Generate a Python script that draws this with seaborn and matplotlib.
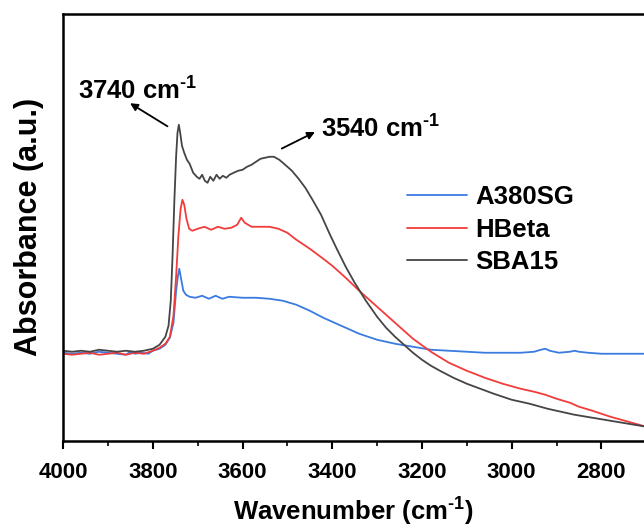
import numpy as np
import pandas as pd
import matplotlib.pyplot as plt
import seaborn as sns

# spectra (absorbance in arbitrary units)
wn_a380 = [4000, 3980, 3960, 3940, 3920, 3900, 3880, 3860, 3850, 3840, 3825, 3810, 3800, 3785, 3772, 3762, 3754, 3748, 3744, 3741,
           3737, 3732, 3726, 3718, 3705, 3690, 3675, 3660, 3645, 3630, 3600, 3570, 3540, 3510, 3480, 3450, 3420, 3400, 3370, 3340,
           3300, 3260, 3220, 3180, 3140, 3100, 3060, 3020, 2980, 2950, 2935, 2925, 2915, 2895, 2870, 2860, 2850, 2830, 2800, 2760,
           2720, 2700]
ab_a380 = [88, 87, 88, 87, 89, 88, 87, 86, 89, 87, 88, 87, 90, 92, 96, 103, 118, 150, 165, 172,
           162, 150, 146, 144, 143, 145, 142, 145, 142, 144, 143, 143, 142, 140, 136, 130, 123, 119, 113, 107,
           101, 97, 94, 91, 90, 89, 88, 88, 88, 89, 91, 92, 90, 88, 89, 90, 89, 88, 87, 87,
           87, 87]

wn_hbeta = [4000, 3980, 3960, 3940, 3920, 3900, 3880, 3860, 3840, 3820, 3800, 3785, 3772, 3762, 3754, 3748, 3743, 3738, 3734, 3730,
            3725, 3719, 3712, 3700, 3685, 3670, 3655, 3640, 3625, 3612, 3603, 3595, 3580, 3560, 3540, 3520, 3500, 3480, 3450, 3420,
            3400, 3370, 3340, 3300, 3260, 3220, 3180, 3140, 3100, 3060, 3020, 2980, 2950, 2925, 2900, 2870, 2850, 2820, 2780, 2740,
            2700]
ab_hbeta = [87, 86, 87, 88, 86, 87, 88, 86, 88, 87, 90, 93, 97, 104, 125, 165, 205, 232, 241, 236,
            222, 212, 210, 212, 214, 211, 214, 212, 213, 216, 223, 218, 214, 214, 214, 212, 208, 201, 192, 182,
            175, 163, 150, 134, 118, 102, 89, 78, 70, 63, 57, 52, 49, 46, 42, 38, 34, 30, 24, 19,
            14]

wn_sba = [4000, 3980, 3960, 3940, 3920, 3900, 3880, 3860, 3840, 3820, 3800, 3785, 3772, 3765, 3760, 3756, 3752, 3748, 3745, 3742,
          3739, 3735, 3730, 3724, 3718, 3710, 3702, 3696, 3690, 3684, 3678, 3672, 3665, 3658, 3651, 3644, 3636, 3629, 3620, 3610,
          3600, 3590, 3580, 3570, 3560, 3550, 3540, 3530, 3518, 3505, 3490, 3475, 3460, 3444, 3425, 3407, 3390, 3370, 3350, 3325,
          3300, 3280, 3260, 3240, 3220, 3200, 3180, 3160, 3130, 3100, 3070, 3040, 3000, 2960, 2920, 2890, 2860, 2820, 2780, 2740,
          2700]
ab_sba = [90, 89, 90, 89, 91, 90, 89, 90, 89, 90, 92, 96, 104, 115, 140, 185, 240, 285, 308, 316,
          308, 295, 288, 281, 277, 268, 264, 262, 266, 260, 258, 264, 260, 266, 262, 265, 263, 266, 268, 270,
          271, 274, 276, 279, 282, 283, 284, 284, 281, 276, 270, 262, 253, 241, 226, 208, 192, 174, 158, 140,
          124, 113, 104, 96, 88, 81, 75, 70, 63, 57, 52, 47, 41, 37, 32, 29, 26, 23, 20, 17,
          14]

samples = ["A380SG", "HBeta", "SBA15"]
colors = ["#3a7be0", "#f23c3c", "#454545"]
major_ticks = [4000, 3800, 3600, 3400, 3200, 3000, 2800]

df = pd.concat([
    pd.DataFrame({"Wavenumber": wn_a380, "Absorbance": ab_a380, "Sample": "A380SG"}),
    pd.DataFrame({"Wavenumber": wn_hbeta, "Absorbance": ab_hbeta, "Sample": "HBeta"}),
    pd.DataFrame({"Wavenumber": wn_sba, "Absorbance": ab_sba, "Sample": "SBA15"}),
])

sns.set_style("ticks")
plt.rcParams["font.family"] = ["Liberation Sans", "DejaVu Sans"]
plt.rcParams["font.weight"] = "bold"
plt.rcParams["mathtext.fontset"] = "custom"
plt.rcParams["mathtext.rm"] = "Liberation Sans:bold"
plt.rcParams["mathtext.bf"] = "Liberation Sans:bold"
plt.rcParams["text.color"] = "black"
plt.rcParams["axes.labelcolor"] = "black"
plt.rcParams["xtick.color"] = "black"

fig = plt.figure(figsize=(6.44, 5.31), dpi=100)
ax = fig.add_axes([0.098, 0.17, 0.902, 0.804])

sns.lineplot(data=df, x="Wavenumber", y="Absorbance", hue="Sample", hue_order=samples,
             palette=colors, linewidth=1.3, ax=ax, estimator=None)

ax.set_xlim(4000, 2705)
ax.set_ylim(0, 427)
ax.set_xticks(major_ticks)
ax.set_xticks(np.arange(3900, 2700, -200), minor=True)
ax.set_yticks([])
ax.tick_params(axis="x", which="major", direction="out", length=6, width=1.5, labelsize=16, pad=9)
ax.tick_params(axis="x", which="minor", direction="out", length=3.5, width=1.2)
for lab in ax.get_xticklabels():
    lab.set_fontweight("bold")

for side in ["left", "top", "bottom"]:
    ax.spines[side].set_linewidth(1.8)
    ax.spines[side].set_color("black")
ax.spines["right"].set_visible(False)

ax.set_xlabel("Wavenumber (cm$^{\\text{-1}}$)", fontsize=18.5, fontweight="bold", labelpad=8)
ax.set_ylabel("Absorbance (a.u.)", fontsize=22, fontweight="bold", labelpad=14)

# annotations with arrows
ax.annotate("", xy=(3856, 339), xytext=(3762, 313),
            arrowprops=dict(arrowstyle="-|>", color="black", lw=1.3, mutation_scale=11))
ax.text(3967, 342, "3740 cm$^{\\text{-1}}$", ha="left", va="baseline", fontsize=18.5, fontweight="bold")
ax.annotate("", xy=(3433, 310), xytext=(3518, 291),
            arrowprops=dict(arrowstyle="-|>", color="black", lw=1.3, mutation_scale=11))
ax.text(3424, 304, "3540 cm$^{\\text{-1}}$", ha="left", va="baseline", fontsize=18.5, fontweight="bold")

leg = ax.legend(loc="upper left", bbox_to_anchor=(0.575, 0.623), frameon=False, borderaxespad=0,
                fontsize=18.5, handlelength=2.33, handletextpad=0.3, labelspacing=0.33)
for t in leg.get_texts():
    t.set_fontweight("bold")

fig.savefig("out.png", dpi=100)
